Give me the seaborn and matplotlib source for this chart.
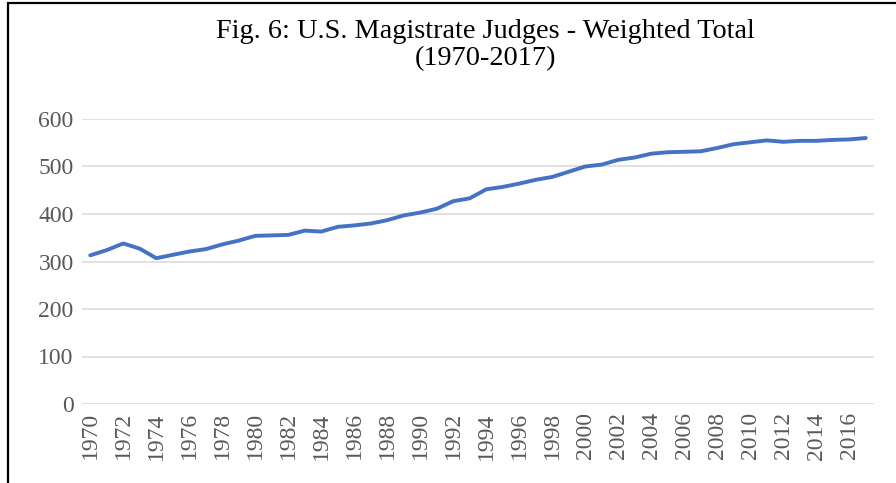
import pandas as pd
import matplotlib.pyplot as plt
import seaborn as sns
from matplotlib.patches import Rectangle

# -------------------------------
# Data
# -------------------------------
years = list(range(1970, 2018))
judges = [313, 324, 338, 327, 307, 314, 321, 326, 336, 344,
          354, 355, 356, 365, 363, 373, 376, 380, 387, 397,
          403, 411, 427, 433, 452, 457, 464, 472, 478, 489,
          500, 504, 514, 519, 527, 530, 531, 532, 539, 547,
          551, 555, 552, 554, 554, 556, 557, 560]
tick_years = list(range(1970, 2017, 2))
y_ticks = [0, 100, 200, 300, 400, 500, 600]

df = pd.DataFrame({"year": years, "weighted_total": judges})

# -------------------------------
# Style
# -------------------------------
sns.set_theme(style="white")
plt.rcParams['font.family'] = ['Liberation Serif', 'DejaVu Serif']

fig = plt.figure(figsize=(8.96, 4.83), dpi=100)
ax = fig.add_axes([82 / 896, 1 - 404 / 483, (874 - 82) / 896, (404 - 119) / 483])

sns.lineplot(data=df, x="year", y="weighted_total", ax=ax,
             color="#4472C4", linewidth=2.8)

ax.set_xlim(1969.5, 2017.5)
ax.set_ylim(0, 600)
ax.set_yticks(y_ticks)
ax.set_xticks(tick_years)
ax.set_xticklabels([str(y) for y in tick_years], rotation=90)
ax.tick_params(axis='both', labelsize=17, colors="#595959", length=0, pad=6)
ax.grid(axis='y', color="#D9D9D9", linewidth=1.1)
ax.set_axisbelow(True)
for s in ax.spines.values():
    s.set_visible(False)
ax.set_xlabel("")
ax.set_ylabel("")

# -------------------------------
# Title and frame
# -------------------------------
fig.text(485 / 896, 1 - 45 / 483,
         "Fig. 6: U.S. Magistrate Judges - Weighted Total\n(1970-2017)",
         ha='center', va='center', fontsize=20.3, color="black", linespacing=1.15)

fig.patches.append(Rectangle((8 / 896, -0.05), 1.1, 1 - 3 / 483 + 0.05,
                             transform=fig.transFigure, fill=False,
                             edgecolor="black", linewidth=1.6))

fig.savefig("out.png", dpi=100)
